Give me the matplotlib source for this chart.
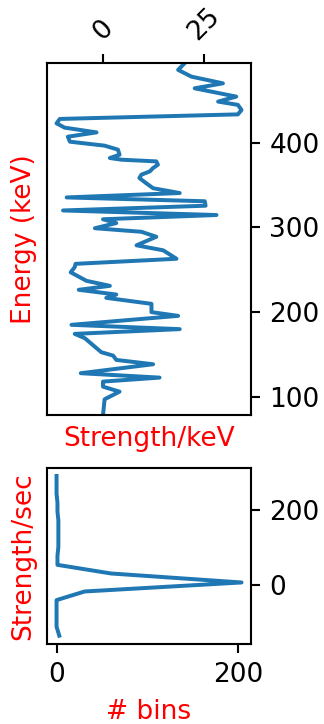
import matplotlib
matplotlib.use("Agg")
import matplotlib.pyplot as plt

# top panel: energy spectrum (strength per keV vs energy)
energy = [78.3, 96.9, 105.9, 111.8, 117.8, 122.5, 127.7, 138.3, 143.4, 148.5,
          152.5, 157.3, 169.1, 174.2, 179.8, 184.9, 195.5, 199.9, 209.7, 216.8,
          220.7, 226.3, 231.0, 236.9, 247.0, 253.1, 257.0, 263.0, 273.0, 278.9,
          289.0, 294.9, 299.1, 305.2, 309.7, 314.7, 320.1, 325.7, 331.0, 335.5,
          340.7, 346.4, 352.3, 358.5, 362.4, 366.3, 370.3, 374.2, 378.1, 380.1,
          382.1, 386.0, 392.0, 396.7, 401.4, 407.3, 412.4, 418.0, 423.1, 428.3,
          433.7, 438.9, 444.9, 448.8, 454.7, 464.5, 470.4, 478.3, 486.3, 494.1]
strength = [0.0, 0.4, 4.1, 0.0, 0.0, 14.0, -5.5, 12.4, 3.3, 2.5,
            -0.4, -1.6, -4.5, -7.0, 19.0, -7.8, 18.6, 12.0, 12.0, 0.8,
            3.3, -6.0, 1.7, -4.1, -8.0, -7.0, -6.8, 18.2, 14.9, 8.3,
            13.2, 9.5, -2.0, 3.3, 0.0, 28.1, -9.9, 25.4, 25.2, -9.0,
            19.0, 12.4, 10.7, 9.0, 9.5, 11.6, 12.4, 13.6, 13.2, 4.6,
            1.7, 4.1, 3.7, 0.4, -8.2, -8.7, -1.6, -9.5, -11.5, -10.7,
            33.4, 34.3, 33.4, 28.5, 33.0, 22.7, 29.7, 21.9, 18.6, 20.2]

# bottom panel: distribution of strength/sec
sec_vals = [-136, -112, -89, -65, -41, -18, 6, 30, 53, 77,
            101, 124, 148, 172, 195, 219, 243, 266, 290]
n_bins = [3, 0, 0, 0, 0, 31, 204, 60, 1, 1,
          2, 2, 2, 2, 1, 1, 0, 0, 0]

dpi = 190
fig = plt.figure(figsize=(324 / dpi, 724 / dpi), dpi=dpi)

ax1 = fig.add_axes([0.146, 0.4268, 0.628, 0.4858])
ax1.plot(strength, energy)
ax1.set_ylim(min(energy), max(energy))
ax1.xaxis.tick_top()
ax1.yaxis.tick_right()
ax1.set_xticks([0, 25])
ax1.set_yticks([100, 200, 300, 400])
plt.setp(ax1.get_xticklabels(), rotation=45)
ax1.set_xlabel("Strength/keV", color="red")
ax1.set_ylabel("Energy (keV)", color="red")

ax2 = fig.add_axes([0.146, 0.1109, 0.628, 0.2427])
ax2.plot(n_bins, sec_vals)
ax2.yaxis.tick_right()
ax2.set_xticks([0, 200])
ax2.set_yticks([0, 200])
ax2.set_xlabel("# bins", color="red")
ax2.set_ylabel("Strength/sec", color="red")

fig.savefig("out.png", dpi=dpi)
